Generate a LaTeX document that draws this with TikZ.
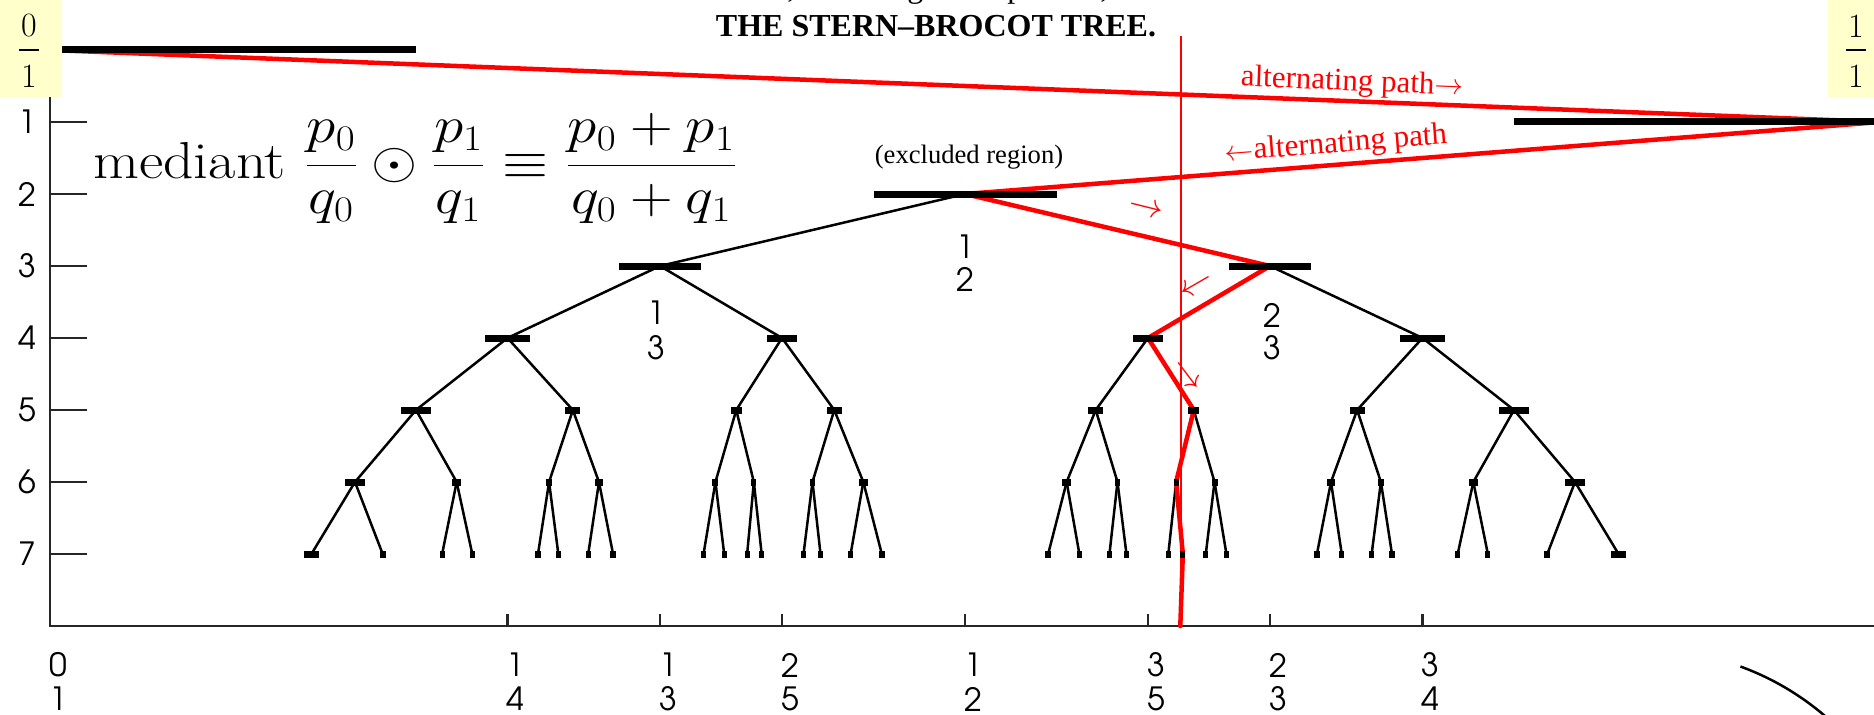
\documentclass[tikz,border=0pt]{standalone}
\usepackage{fontspec}
\newfontfamily\tmsfont{Liberation Serif}
\IfFontExistsTF{TeX Gyre Adventor}{\newfontfamily\gthbase{TeX Gyre Adventor}}{\newfontfamily\gthbase{Poppins}}
\newcommand\gthfont{\gthbase\fontsize{16}{18}\selectfont}
\definecolor{boxyellow}{RGB}{255,255,204}
\tikzset{
  treeedge/.style={line width=1.25pt, black, line cap=round},
  redpath/.style={line width=2.25pt, red, line join=round, line cap=round},
  philine/.style={line width=0.85pt, red},
  axisline/.style={line width=1.1pt, black!85},
  glab/.style={font=\gthfont, inner sep=0pt, anchor=center},
  redlab/.style={font=\tmsfont\fontsize{15.5}{18}\selectfont, text=red, inner sep=0pt},
  redarrow/.style={font=\fontsize{17}{19}\selectfont, text=red, inner sep=0pt},
  boxlab/.style={font=\fontsize{17}{20}\selectfont, inner sep=0pt},
}
\def\sbnodes{0/1/0, 1/1/1, 1/2/2,
 1/3/3, 2/3/3,
 1/4/4, 2/5/4, 3/5/4, 3/4/4,
 1/5/5, 2/7/5, 3/8/5, 3/7/5, 4/7/5, 5/8/5, 5/7/5, 4/5/5,
 1/6/6, 2/9/6, 3/11/6, 3/10/6, 4/11/6, 5/13/6, 5/12/6, 4/9/6, 5/9/6, 7/12/6, 8/13/6, 7/11/6, 7/10/6, 8/11/6, 7/9/6, 5/6/6,
 1/7/7, 2/11/7, 3/14/7, 3/13/7, 4/15/7, 5/18/7, 5/17/7, 4/13/7, 5/14/7, 7/19/7, 8/21/7, 7/18/7, 7/17/7, 8/19/7, 7/16/7, 5/11/7, 6/11/7, 9/16/7, 11/19/7, 10/17/7, 11/18/7, 13/21/7, 12/19/7, 9/14/7, 9/13/7, 12/17/7, 13/18/7, 11/15/7, 10/13/7, 11/14/7, 9/11/7, 6/7/7}
\def\sbedges{1-2/1-3, 1-2/2-3,
 1-3/1-4, 1-3/2-5, 2-3/3-5, 2-3/3-4,
 1-4/1-5, 1-4/2-7, 2-5/3-8, 2-5/3-7, 3-5/4-7, 3-5/5-8, 3-4/5-7, 3-4/4-5,
 1-5/1-6, 1-5/2-9, 2-7/3-11, 2-7/3-10, 3-8/4-11, 3-8/5-13, 3-7/5-12, 3-7/4-9, 4-7/5-9, 4-7/7-12, 5-8/8-13, 5-8/7-11, 5-7/7-10, 5-7/8-11, 4-5/7-9, 4-5/5-6,
 1-6/1-7, 1-6/2-11, 2-9/3-14, 2-9/3-13, 3-11/4-15, 3-11/5-18, 3-10/5-17, 3-10/4-13, 4-11/5-14, 4-11/7-19, 5-13/8-21, 5-13/7-18, 5-12/7-17, 5-12/8-19, 4-9/7-16, 4-9/5-11, 5-9/6-11, 5-9/9-16, 7-12/11-19, 7-12/10-17, 8-13/11-18, 8-13/13-21, 7-11/12-19, 7-11/9-14, 7-10/9-13, 7-10/12-17, 8-11/13-18, 8-11/11-15, 7-9/10-13, 7-9/11-14, 5-6/9-11, 5-6/6-7}
\begin{document}
\begin{tikzpicture}[x=0.5pt,y=0.5pt]
\useasboundingbox (0,0) rectangle (1874,714);
% tree node positions: x = value, y = depth
\foreach \p/\q/\d in \sbnodes {
  \coordinate (n\p-\q) at ({50+1830*(\p/\q)},{664-72*\d});
}
\coordinate (n21-34) at ({50+1830*(21/34)},88);
% axes
\coordinate (ytop) at (50,660);
\coordinate (orig) at (50,88);
\coordinate (xend) at (1874,88);
\draw[axisline] (ytop) -- (orig) -- (xend);
\foreach \d in {1,...,7} {
  \draw[axisline] (50,{664-72*\d}) -- ++(37,0);
  \node[glab] (ylab\d) at (27,{664-72*\d}) {\d};
}
\foreach \p/\q in {0/1,1/4,1/3,2/5,1/2,3/5,2/3,3/4} {
  \coordinate (t\p-\q) at (n\p-\q |- orig);
  \node[glab] (xnum\p-\q) at ([xshift=4pt,yshift=-19.5pt]t\p-\q) {\p};
  \node[glab] (xden\p-\q) at ([xshift=4pt,yshift=-36.5pt]t\p-\q) {\q};
}
\foreach \p/\q in {1/4,1/3,2/5,1/2,3/5,2/3,3/4} {
  \draw[axisline] (t\p-\q) -- ++(0,12);
}
% tree edges
\foreach \a/\b in \sbedges { \draw[treeedge] (n\a) -- (n\b); }
% alternating path
\draw[redpath] (n0-1) -- (n1-1) -- (n1-2) -- (n2-3) -- (n3-5) -- (n5-8) -- (n8-13) -- (n13-21) -- (n21-34);
% golden ratio line
\coordinate (phitop) at ({50+1830*0.618034},678);
\draw[philine] (phitop) -- (phitop |- orig);
% excluded-region bars
\foreach \p/\q/\d in \sbnodes {
  \pgfmathsetmacro\hw{max(366/(\q*\q),2.6)}
  \fill[black] ([xshift=-\hw*0.5pt, yshift=-1.75pt]n\p-\q) rectangle ([xshift=\hw*0.5pt, yshift=1.75pt]n\p-\q);
}
% tree labels
\node[glab] (l12n) at ([yshift=-26.25pt]n1-2) {1};
\node[glab] (l12d) at ([yshift=-42.5pt]n1-2) {2};
\node[glab] (l13n) at ([xshift=-2pt,yshift=-23.5pt]n1-3) {1};
\node[glab] (l13d) at ([xshift=-2pt,yshift=-41pt]n1-3) {3};
\node[glab] (l23n) at ([xshift=1pt,yshift=-24.5pt]n2-3) {2};
\node[glab] (l23d) at ([xshift=1pt,yshift=-41pt]n2-3) {3};
% texts
\node[font=\tmsfont\fontsize{16}{19}\selectfont, anchor=base west, inner sep=0pt] (topline) at (787,716) {,\hspace{56pt}g\hspace{42pt}p\hspace{38.5pt},};
\node[font=\tmsfont\bfseries\fontsize{16}{19}\selectfont, anchor=base, inner sep=0pt] (title) at (936,677) {THE STERN–BROCOT TREE.};
\node[font=\fontsize{25}{30}\selectfont, anchor=base west, inner sep=0pt] (mediant) at (93,536)
  {\scalebox{1.19}[1.04]{mediant $\displaystyle\frac{p_0}{q_0}\odot\frac{p_1}{q_1}\equiv\frac{p_0+p_1}{q_0+q_1}$}};
\node[font=\tmsfont\fontsize{13.3}{16}\selectfont, inner sep=0pt] (excl) at (969,556.5) {(excluded region)};
\node[redlab, rotate=-2.3] (alt1) at (1352,631) {alternating path$\rightarrow$};
\node[redlab, rotate=4.5] (alt2) at (1336,569) {$\leftarrow$alternating path};
\node[redarrow, rotate=-14] (ar1) at (1146,504) {$\rightarrow$};
\node[redarrow, rotate=210] (ar2) at (1195,431) {$\rightarrow$};
\node[redarrow, rotate=-53] (ar3) at (1186,338) {$\rightarrow$};
% yellow boxes with end fractions
\fill[boxyellow] (0,617) rectangle (62,714);
\node[boxlab] (b0n) at (29,688) {0};
\draw[line width=0.7pt] (19,664) -- (39,664);
\node[boxlab] (b0d) at (29,637.5) {1};
\fill[boxyellow] (1828,617) rectangle (1874,714);
\node[boxlab] (b1n) at (1856,688) {1};
\draw[line width=0.7pt] (1846,664) -- (1866,664);
\node[boxlab] (b1d) at (1856,637.5) {1};
% arc at lower right
\draw[line width=1.25pt] (1740.4,47.5) arc[start angle=70, end angle=48.5, radius=273];
\end{tikzpicture}
\end{document}
